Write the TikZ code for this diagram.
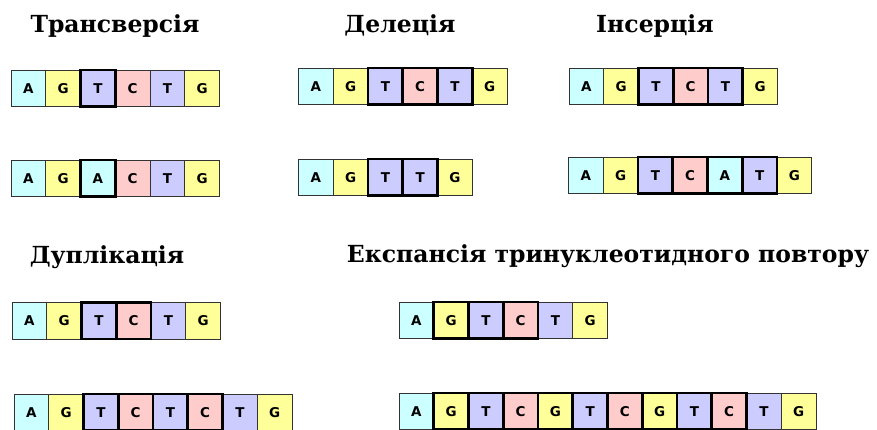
\documentclass[tikz,border=0pt]{standalone}
\usepackage{fontspec}
\newfontfamily\ttlfont{DejaVu Serif}
\newfontfamily\nucfont{DejaVu Sans}
\definecolor{cA}{HTML}{CCFFFF}
\definecolor{cG}{HTML}{FFFF99}
\definecolor{cT}{HTML}{CCCCFF}
\definecolor{cC}{HTML}{FFCCCC}
\tikzset{
 cell/.style={draw=black!80, line width=0.8pt, minimum width=34.75pt, minimum height=36.5pt,
   inner sep=0pt, outer sep=0pt, anchor=north west,
   font=\nucfont\bfseries\fontsize{13.5}{13.5}\selectfont},
 hl/.style={line width=2.8pt, draw=black},
 ttl/.style={anchor=base, inner sep=0pt, font=\ttlfont\bfseries\fontsize{23.5}{23.5}\selectfont},
}
\newcommand\dnarow[5]{%
 \foreach \L [count=\i] in {#4} {
   \node[cell, fill=c\L] (#1-\i) at ({#2+(\i-1)*34.75}, #3) {\L};
 }
 \foreach \i in {#5} {
   \draw[hl] (#1-\i.north west) rectangle (#1-\i.south east);
 }
}
\begin{document}
\begin{tikzpicture}[x=1pt,y=-1pt]
\useasboundingbox (0,0) rectangle (877,429);
\clip (0,0) rectangle (877,429);
\node[ttl] (t1) at (115,32) {Трансверсія};
\node[ttl] (t2) at (400,32) {Делеція};
\node[ttl] (t3) at (655,32) {Інсерція};
\node[ttl] (t4) at (107,263) {Дуплікація};
\node[ttl] (t5) at (608,262) {Експансія тринуклеотидного повтору};
\dnarow{tr1}{11}{70}{A,G,T,C,T,G}{3}
\dnarow{tr2}{11}{160}{A,G,A,C,T,G}{3}
\dnarow{de1}{298.5}{68}{A,G,T,C,T,G}{3,4,5}
\dnarow{de2}{298.5}{159}{A,G,T,T,G}{3,4}
\dnarow{in1}{569}{68}{A,G,T,C,T,G}{3,4,5}
\dnarow{in2}{568.5}{157}{A,G,T,C,A,T,G}{3,4,5,6}
\dnarow{du1}{12}{302.5}{A,G,T,C,T,G}{3,4}
\dnarow{du2}{14}{394}{A,G,T,C,T,C,T,G}{3,4,5,6}
\dnarow{ex1}{399}{302}{A,G,T,C,T,G}{2,3,4}
\dnarow{ex2}{399}{393}{A,G,T,C,G,T,C,G,T,C,T,G}{2,3,4,5,6,7,8,9,10}
\end{tikzpicture}
\end{document}
